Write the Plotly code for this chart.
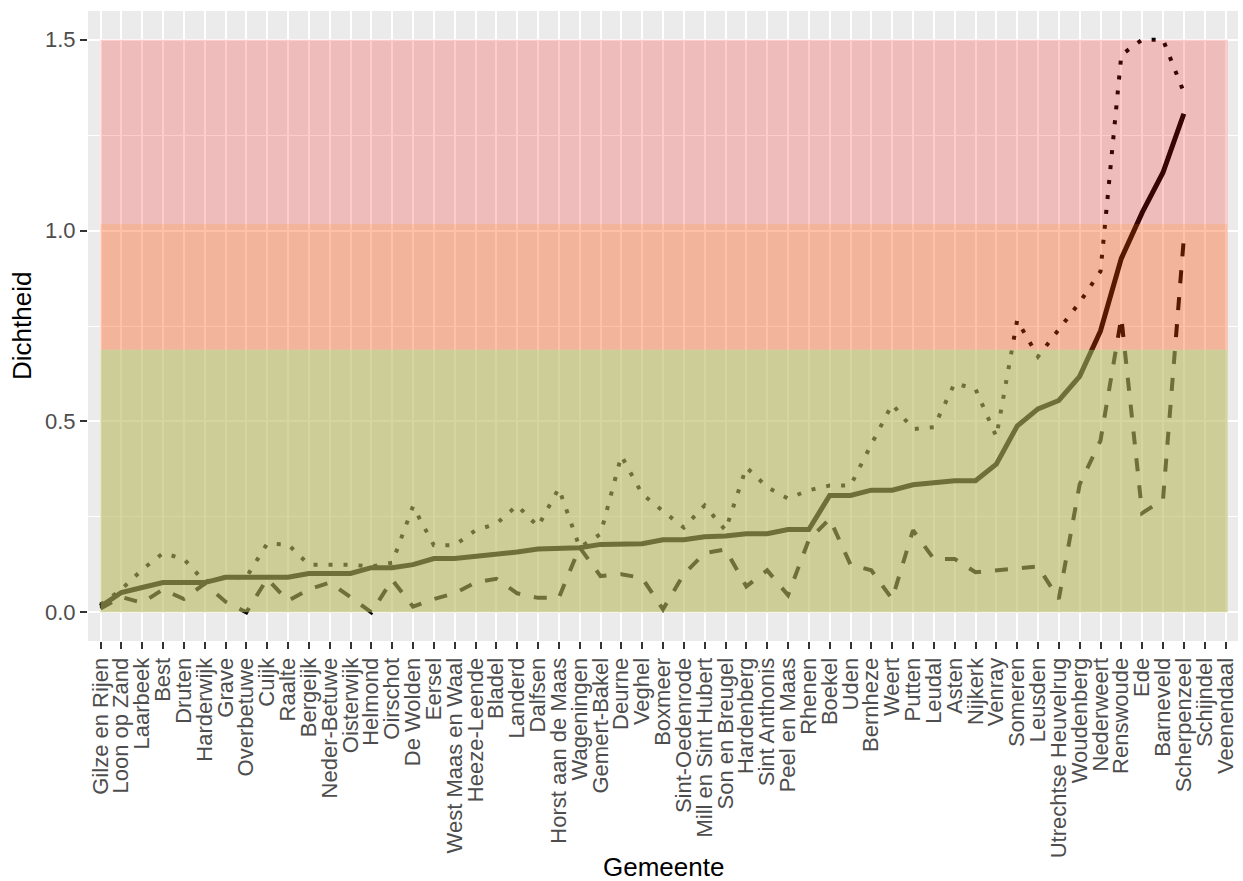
import plotly.graph_objects as go

gemeenten = [
    "Gilze en Rijen", "Loon op Zand", "Laarbeek", "Best", "Druten", "Harderwijk", "Grave",
    "Overbetuwe", "Cuijk", "Raalte", "Bergeijk", "Neder-Betuwe", "Oisterwijk", "Helmond",
    "Oirschot", "De Wolden", "Eersel", "West Maas en Waal", "Heeze-Leende", "Bladel",
    "Landerd", "Dalfsen", "Horst aan de Maas", "Wageningen", "Gemert-Bakel", "Deurne",
    "Veghel", "Boxmeer", "Sint-Oedenrode", "Mill en Sint Hubert", "Son en Breugel",
    "Hardenberg", "Sint Anthonis", "Peel en Maas", "Rhenen", "Boekel", "Uden", "Bernheze",
    "Weert", "Putten", "Leudal", "Asten", "Nijkerk", "Venray", "Someren", "Leusden",
    "Utrechtse Heuvelrug", "Woudenberg", "Nederweert", "Renswoude", "Ede", "Barneveld",
    "Scherpenzeel", "Schijndel", "Veenendaal",
]

dichtheid = [
    0.015, 0.052, 0.065, 0.078, 0.078, 0.078, 0.092, 0.092, 0.092, 0.092,
    0.102, 0.102, 0.102, 0.117, 0.117, 0.125, 0.141, 0.141, 0.146, 0.152,
    0.158, 0.166, 0.169, 0.169, 0.178, 0.180, 0.180, 0.190, 0.190, 0.198,
    0.200, 0.206, 0.206, 0.217, 0.217, 0.306, 0.306, 0.320, 0.320, 0.334,
    0.338, 0.345, 0.345, 0.388, 0.488, 0.533, 0.555, 0.618, 0.737, 0.927,
    1.047, 1.152, 1.306, None, None,
]

dichtheid_hoog = [
    0.020, 0.060, 0.112, 0.155, 0.140, 0.080, 0.092, 0.092, 0.180, 0.178,
    0.125, 0.125, 0.125, 0.120, 0.130, 0.278, 0.176, 0.176, 0.215, 0.232,
    0.280, 0.225, 0.325, 0.170, 0.205, 0.410, 0.310, 0.265, 0.222, 0.280,
    0.215, 0.380, 0.328, 0.298, 0.320, 0.332, 0.332, 0.440, 0.545, 0.480,
    0.485, 0.600, 0.585, 0.460, 0.765, 0.670, 0.740, 0.812, 0.893, 1.460,
    1.500, 1.500, 1.362, None, None,
]

dichtheid_laag = [
    0.010, 0.040, 0.025, 0.060, 0.035, 0.075, 0.028, 0.000, 0.088, 0.030,
    0.060, 0.078, 0.040, 0.000, 0.085, 0.015, 0.035, 0.050, 0.078, 0.088,
    0.050, 0.038, 0.038, 0.170, 0.095, 0.100, 0.090, 0.008, 0.100, 0.155,
    0.165, 0.068, 0.110, 0.045, 0.190, 0.245, 0.125, 0.110, 0.035, 0.215,
    0.140, 0.140, 0.105, 0.110, 0.115, 0.120, 0.035, 0.335, 0.450, 0.772,
    0.260, 0.295, 0.980, None, None,
]

# risk bands: (lower, upper, colour, opacity)
band_grenzen = [0.0, 0.688, 1.017, 1.5]
band_kleuren = ["rgb(185,185,95)", "rgb(255,72,0)", "rgb(255,25,25)"]
band_opacity = [0.6, 0.34, 0.22]

y_ticks = [0.0, 0.5, 1.0, 1.5]

fig = go.Figure()

lijnen = [
    (dichtheid_hoog, "4px,11px", 4),
    (dichtheid_laag, "13px,14px", 4),
    (dichtheid, "solid", 5),
]
for vals, dash, w in lijnen:
    fig.add_trace(go.Scatter(
        x=gemeenten, y=vals, mode="lines",
        line=dict(color="black", width=w, dash=dash),
        connectgaps=False, showlegend=False, hoverinfo="skip",
    ))

n = len(gemeenten)
for i, kleur in enumerate(band_kleuren):
    fig.add_shape(
        type="rect", xref="x", yref="y",
        x0=0, x1=n - 1 + 0.1,
        y0=band_grenzen[i], y1=band_grenzen[i + 1],
        fillcolor=kleur, opacity=band_opacity[i],
        line=dict(width=0), layer="above",
    )

fig.update_layout(
    width=1243, height=881,
    margin=dict(l=88, r=5, t=11, b=240, autoexpand=False),
    paper_bgcolor="white",
    plot_bgcolor="#EBEBEB",
    font=dict(family="Liberation Sans, Arial, sans-serif"),
    showlegend=False,
)

fig.update_xaxes(
    type="category", categoryorder="array", categoryarray=gemeenten,
    tickmode="linear", tick0=0, dtick=1,
    range=[-0.6, n - 1 + 0.6], automargin=False,
    tickangle=-90, tickfont=dict(size=22, color="#4D4D4D"),
    ticks="outside", ticklen=7, tickwidth=2, tickcolor="#333333",
    showgrid=True, gridcolor="white", gridwidth=2,
    zeroline=False, showline=False,
)

fig.update_yaxes(
    range=[-0.075, 1.575], automargin=False,
    tickvals=y_ticks, ticktext=[f"{v:.1f}" for v in y_ticks],
    tickfont=dict(size=22, color="#4D4D4D"),
    ticks="outside", ticklen=7, tickwidth=2, tickcolor="#333333",
    showgrid=True, gridcolor="white", gridwidth=2,
    minor=dict(tickvals=[0.25, 0.75, 1.25], showgrid=True, gridcolor="white", gridwidth=1, ticks=""),
    zeroline=False, showline=False,
)

fig.add_annotation(
    text="Gemeente", xref="paper", yref="paper", x=0.5, y=(641 - 867) / 630,
    xanchor="center", yanchor="middle", showarrow=False,
    font=dict(size=26, color="black"),
)
fig.add_annotation(
    text="Dichtheid", xref="paper", yref="paper", x=(22 - 88) / 1150, y=0.5,
    xanchor="center", yanchor="middle", showarrow=False, textangle=-90,
    font=dict(size=26, color="black"),
)

fig.write_html(
    "out.html",
    config={"displayModeBar": False},
    post_script="document.body.style.margin='0px';document.body.style.overflow='hidden';",
)
